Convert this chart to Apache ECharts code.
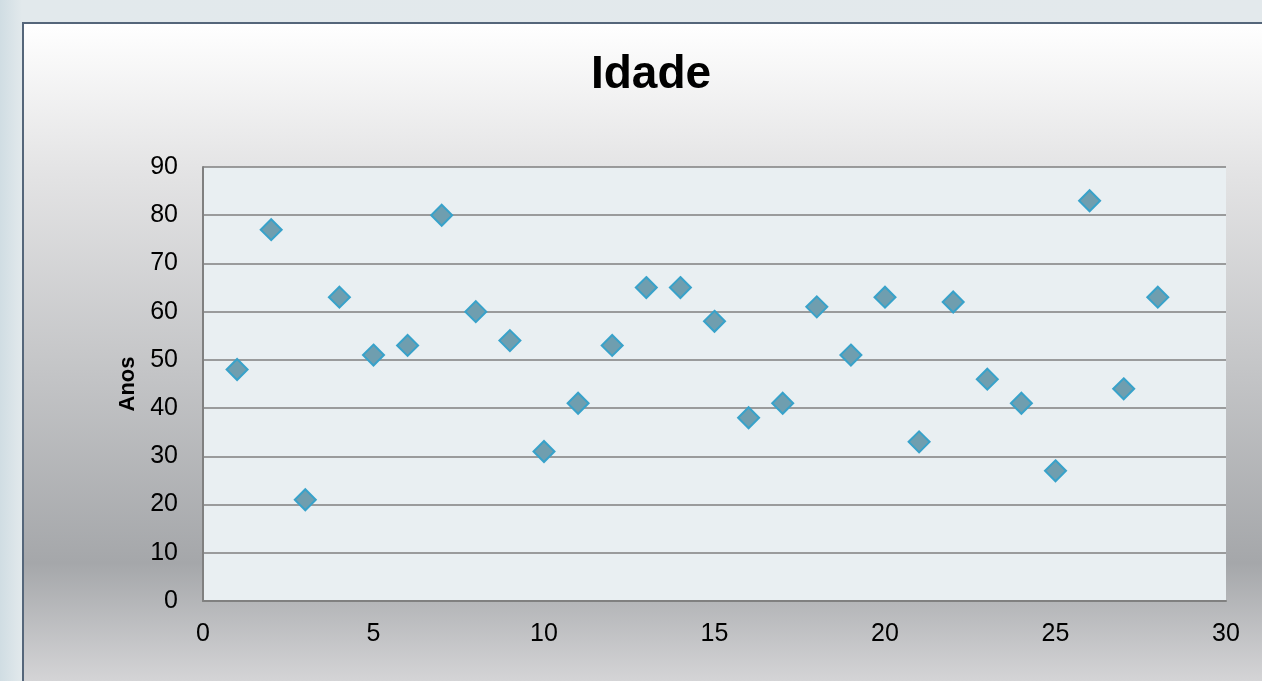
<!DOCTYPE html>
<html>
<head>
<meta charset="utf-8">
<script src="https://cdn.jsdelivr.net/npm/echarts@6/dist/echarts.min.js"></script>
<style>
  html, body {
    margin: 0;
    padding: 0;
    width: 1262px;
    height: 681px;
    overflow: hidden;
    background: linear-gradient(to right, #d0dde3 0px, #e2e9ec 22px, #e3e9ec 100%);
  }
  .box {
    position: absolute;
    left: 22px;
    top: 22px;
    width: 1240px;
    height: 659px;
    border-top: 2px solid #55667a;
    border-left: 2px solid #55667a;
    box-sizing: border-box;
    background: linear-gradient(to bottom, #ffffff 0%, #e4e4e5 22%, #a5a7aa 82%, #d4d4d6 100%);
  }
  #main {
    position: absolute;
    left: 0;
    top: 0;
    width: 1262px;
    height: 681px;
  }
</style>
</head>
<body>
<div class="box"></div>
<div id="main"></div>
<script>
// pessoa nº (eixo x) e idade em anos (eixo y)
var pessoas = [1, 2, 3, 4, 5, 6, 7, 8, 9, 10, 11, 12, 13, 14, 15, 16, 17, 18, 19, 20, 21, 22, 23, 24, 25, 26, 27, 28];
var idades = [48, 77, 21, 63, 51, 53, 80, 60, 54, 31, 41, 53, 65, 65, 58, 38, 41, 61, 51, 63, 33, 62, 46, 41, 27, 83, 44, 63];

var pontos = pessoas.map(function (p, i) {
  return [p, idades[i]];
});

var fonte = "'Liberation Sans', Arial, sans-serif";

var myChart = echarts.init(document.getElementById("main"));
myChart.setOption({
  backgroundColor: "transparent",
  animation: false,
  title: {
    text: "Idade",
    left: 646,
    textAlign: "center",
    top: 47,
    textStyle: {
      fontFamily: fonte,
      fontSize: 46,
      fontWeight: "bold",
      color: "#000",
    },
  },
  grid: {
    left: 203,
    top: 167,
    right: 36,
    bottom: 80,
    show: true,
    backgroundColor: "#e9eff2",
    borderWidth: 0,
  },
  xAxis: {
    type: "value",
    min: 0,
    max: 30,
    interval: 5,
    axisLine: { show: true, lineStyle: { color: "#808080", width: 2 } },
    axisTick: { show: false },
    splitLine: { show: false },
    axisLabel: {
      margin: 21,
      fontFamily: fonte,
      fontSize: 25,
      color: "#000",
    },
  },
  yAxis: {
    type: "value",
    min: 0,
    max: 90,
    interval: 10,
    name: "Anos",
    nameLocation: "middle",
    nameGap: 62,
    nameTextStyle: {
      fontFamily: fonte,
      fontSize: 22,
      fontWeight: "bold",
      color: "#000",
    },
    axisLine: { show: true, lineStyle: { color: "#808080", width: 2 } },
    axisTick: { show: false },
    splitLine: { show: true, lineStyle: { color: "#7f7f7f", width: 1.5 } },
    axisLabel: {
      margin: 25,
      fontFamily: fonte,
      fontSize: 25,
      color: "#000",
    },
  },
  series: [
    {
      type: "scatter",
      data: pontos,
      symbol: "diamond",
      symbolSize: 21,
      itemStyle: {
        color: "#6f9eaf",
        borderColor: "#38a2ca",
        borderWidth: 2,
        opacity: 1,
      },
    },
  ],
});
</script>
</body>
</html>
